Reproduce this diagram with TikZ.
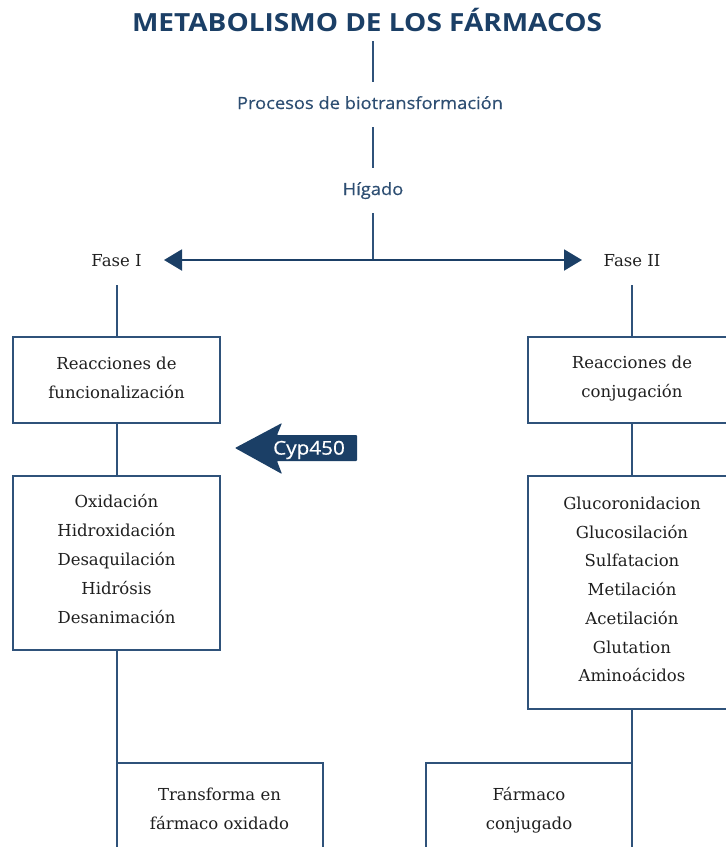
\documentclass[tikz,border=0pt]{standalone}
\usepackage{fontspec}
\setmainfont{DejaVu Serif}
\newfontfamily\headsans{Open Sans}[FakeStretch=1.12]
\newfontfamily\labelsans{Open Sans}[FakeStretch=1.09, FakeBold=0.5]
\usetikzlibrary{arrows.meta}

\definecolor{navy}{HTML}{1B3F66}
\definecolor{edge}{HTML}{2F527A}
\definecolor{ink}{HTML}{1F1F1F}

\tikzset{
  link/.style={draw=edge, line width=2pt},
  biglink/.style={draw=navy, line width=2pt},
  maintitle/.style={font=\headsans\bfseries\fontsize{25}{28}\selectfont, text=navy,
    inner sep=0pt, text height=18pt, text depth=0pt, outer ysep=10pt},
  bluelabel/.style={font=\labelsans\fontsize{16.8}{20}\selectfont, text=navy!92!white,
    inner sep=0pt, text height=13pt, text depth=4pt, outer ysep=14pt},
  phaselabel/.style={font=\fontsize{16.5}{20}\selectfont, text=ink,
    inner sep=0pt, text height=13pt, text depth=4pt, outer ysep=14.5pt},
  stagebox/.style={draw=edge, line width=2pt, fill=white, inner sep=0pt, outer sep=0pt},
  stagetext/.style={text=ink, align=center, inner sep=0pt,
    font=\fontsize{16.5}{29}\selectfont},
}

\begin{document}
\begin{tikzpicture}[x=1pt, y=-1pt]
  \useasboundingbox (0,0) rectangle (726,847);
  \clip (0,0) rectangle (726,847);

  % headings down the middle
  \node[maintitle, anchor=base] (title) at (367,31) {METABOLISMO DE LOS FÁRMACOS};
  \node[bluelabel, anchor=base] (proc) at (370,109) {Procesos de biotransformación};
  \node[bluelabel, anchor=base] (hig) at (373,195) {Hígado};
  \coordinate (fork) at (373,260);
  \coordinate (tipL) at (164,260);
  \coordinate (tipR) at (582,260);

  % the two phases
  \node[phaselabel] (f1) at (116.5,262) {Fase I};
  \node[phaselabel] (f2) at (632,262) {Fase II};

  % phase I column
  \node[stagebox, minimum width=207pt, minimum height=86pt] (b1) at (116.5,380) {};
  \node[stagetext] (b1t) at ([yshift=2pt]b1.center) {Reacciones de\\funcionalización};
  \node[stagebox, minimum width=207pt, minimum height=174pt] (b2) at (116.5,563) {};
  \node[stagetext] (b2t) at ([yshift=4pt]b2.center)
    {Oxidación\\Hidroxidación\\Desaquilación\\Hidrósis\\Desanimación};
  \node[stagebox, minimum width=206pt, minimum height=90pt] (b3) at (219.5,808) {};
  \node[stagetext] (b3t) at ([yshift=-1pt]b3.center) {Transforma en\\fármaco oxidado};

  % phase II column
  \node[stagebox, minimum width=208pt, minimum height=86pt] (r1) at (632,380) {};
  \node[stagetext] (r1t) at ([yshift=1pt]r1.center) {Reacciones de\\conjugación};
  \node[stagebox, minimum width=208pt, minimum height=233pt] (r2) at (632,592.5) {};
  \node[stagetext, font=\fontsize{16.5}{28.7}\selectfont] (r2t) at ([yshift=3pt]r2.center)
    {Glucoronidacion\\Glucosilación\\Sulfatacion\\Metilación\\Acetilación\\Glutation\\Aminoácidos};
  \node[stagebox, minimum width=206pt, minimum height=90pt] (r3) at (529,808) {};
  \node[stagetext] (r3t) at ([yshift=-2pt]r3.center) {Fármaco\\conjugado};

  % connectors
  \draw[link] (title.south -| hig) -- (proc.north -| hig);
  \draw[link] (proc.south -| hig) -- (hig.north);
  \draw[link] (hig.south) -- (fork);
  \draw[biglink, -{Triangle[length=18pt, width=21pt]}] (fork) -- (tipL);
  \draw[biglink, -{Triangle[length=18pt, width=21pt]}] (fork) -- (tipR);
  \draw[link] (f1.south) -- (b1.north);
  \draw[link] (b1.south) -- (b2.north);
  \draw[link] (b2.south) -- (b3.north west);
  \draw[link] (f2.south) -- (r1.north);
  \draw[link] (r1.south) -- (r2.north);
  \draw[link] (r2.south) -- (r3.north east);

  % enzyme marker pointing at phase I
  \fill[navy, rounded corners=0.8pt] (235,448) -- (282,423) -- (277,435) -- (357,435)
    -- (357,461) -- (277,461) -- (282,474) -- cycle;
  \node[font=\labelsans\fontsize{19}{22}\selectfont, text=white, inner sep=0pt] (cyp)
    at (309,450) {Cyp450};
\end{tikzpicture}
\end{document}
